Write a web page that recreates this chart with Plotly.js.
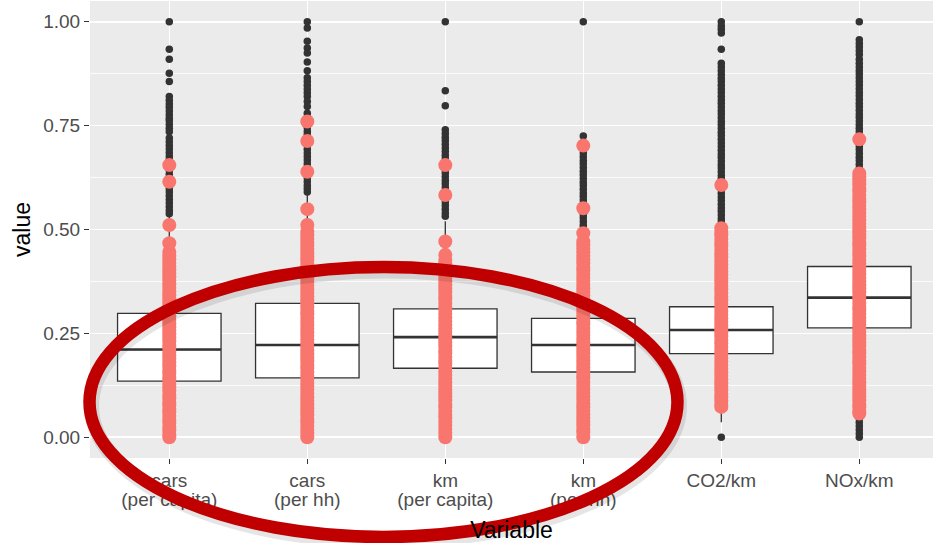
<!DOCTYPE html>
<html>
<head>
<meta charset="utf-8">
<script src="https://cdn.plot.ly/plotly-3.0.1.min.js"></script>
<style>html,body{margin:0;padding:0;background:#fff;}#chart{width:935px;height:543px;}</style>
</head>
<body>
<div id="chart"></div>
<script>
// ---- data ----
const categoryLine1 = ['cars', 'cars', 'km', 'km', 'CO2/km', 'NOx/km'];
const categoryLine2 = ['(per capita)', '(per hh)', '(per capita)', '(per hh)', '', ''];
const q1Values     = [0.135, 0.143, 0.166, 0.157, 0.201, 0.263];
const medianValues = [0.211, 0.222, 0.241, 0.222, 0.258, 0.336];
const q3Values     = [0.298, 0.322, 0.309, 0.286, 0.314, 0.411];
const lowerFences  = [0.000, 0.000, 0.000, 0.000, 0.036, 0.052];
const upperFences  = [0.540, 0.585, 0.520, 0.480, 0.480, 0.630];

// black outliers (boxplot outliers) per category
const outliers1 = [1.0, 0.934, 0.910, 0.876, 0.856, 0.82, 0.811, 0.802, 0.794, 0.785, 0.776, 0.768, 0.762, 0.753, 0.744, 0.735, 0.72, 0.711, 0.702, 0.694, 0.685, 0.676, 0.668, 0.659, 0.65, 0.642, 0.633, 0.624, 0.616, 0.607, 0.598, 0.59, 0.581, 0.572, 0.564, 0.555, 0.546, 0.538];
const outliers2 = [1.0, 0.985, 0.953, 0.937, 0.925, 0.903, 0.882, 0.865, 0.856, 0.847, 0.838, 0.829, 0.82, 0.808, 0.796, 0.78, 0.771, 0.762, 0.754, 0.745, 0.736, 0.728, 0.719, 0.71, 0.702, 0.693, 0.684, 0.676, 0.667, 0.658, 0.65, 0.641, 0.632, 0.624, 0.615, 0.606, 0.598, 0.59];
const outliers3 = [1.0, 0.834, 0.798, 0.74, 0.731, 0.722, 0.714, 0.705, 0.696, 0.688, 0.679, 0.67, 0.662, 0.653, 0.644, 0.636, 0.627, 0.618, 0.61, 0.601, 0.592, 0.584, 0.575, 0.566, 0.558, 0.549, 0.54, 0.532];
const outliers4 = [1.0, 0.725, 0.71, 0.684, 0.675, 0.666, 0.658, 0.649, 0.64, 0.632, 0.623, 0.614, 0.606, 0.597, 0.588, 0.58, 0.571, 0.562, 0.554, 0.545, 0.536, 0.528, 0.519, 0.51, 0.502, 0.493, 0.485];
const outliers5 = [1.0, 0.99, 0.982, 0.973, 0.934, 0.9, 0.891, 0.882, 0.873, 0.864, 0.856, 0.847, 0.838, 0.83, 0.821, 0.812, 0.804, 0.795, 0.786, 0.778, 0.769, 0.76, 0.752, 0.743, 0.734, 0.726, 0.717, 0.708, 0.7, 0.691, 0.682, 0.674, 0.665, 0.656, 0.648, 0.639, 0.63, 0.622, 0.613, 0.604, 0.596, 0.587, 0.578, 0.57, 0.561, 0.552, 0.544, 0.535, 0.526, 0.518, 0.509, 0.5, 0.492, 0.0];
const outliers6 = [1.0, 0.957, 0.948, 0.939, 0.93, 0.921, 0.91, 0.9, 0.891, 0.882, 0.874, 0.865, 0.856, 0.848, 0.839, 0.83, 0.822, 0.813, 0.804, 0.796, 0.787, 0.778, 0.77, 0.761, 0.752, 0.744, 0.735, 0.726, 0.718, 0.709, 0.7, 0.692, 0.683, 0.674, 0.666, 0.657, 0.648, 0.64, 0.045, 0.036, 0.027, 0.018, 0.009, 0.0];

// highlighted (salmon) observations per category
const points1 = [0.655, 0.615, 0.511, 0.467, 0.446, 0.437, 0.428, 0.42, 0.411, 0.402, 0.394, 0.385, 0.377, 0.368, 0.36, 0.351, 0.342, 0.334, 0.325, 0.317, 0.308, 0.3, 0.291, 0.282, 0.274, 0.265, 0.257, 0.248, 0.24, 0.231, 0.222, 0.214, 0.205, 0.197, 0.188, 0.18, 0.171, 0.162, 0.154, 0.145, 0.137, 0.128, 0.12, 0.111, 0.102, 0.094, 0.085, 0.077, 0.068, 0.06, 0.051, 0.042, 0.034, 0.025, 0.017, 0.008, 0.0];
const points2 = [0.76, 0.713, 0.639, 0.549, 0.511, 0.495, 0.486, 0.478, 0.469, 0.46, 0.452, 0.443, 0.434, 0.426, 0.417, 0.408, 0.4, 0.391, 0.382, 0.374, 0.365, 0.356, 0.348, 0.339, 0.33, 0.322, 0.313, 0.304, 0.296, 0.287, 0.278, 0.27, 0.261, 0.252, 0.244, 0.235, 0.226, 0.218, 0.209, 0.2, 0.192, 0.183, 0.174, 0.166, 0.157, 0.148, 0.14, 0.131, 0.122, 0.114, 0.105, 0.096, 0.088, 0.079, 0.07, 0.062, 0.053, 0.044, 0.036, 0.027, 0.018, 0.01, 0.0];
const points3 = [0.655, 0.583, 0.471, 0.439, 0.427, 0.418, 0.41, 0.401, 0.392, 0.384, 0.375, 0.366, 0.358, 0.349, 0.34, 0.332, 0.323, 0.314, 0.306, 0.297, 0.288, 0.28, 0.271, 0.262, 0.254, 0.245, 0.236, 0.228, 0.219, 0.21, 0.202, 0.193, 0.184, 0.176, 0.167, 0.158, 0.15, 0.141, 0.132, 0.124, 0.115, 0.106, 0.098, 0.089, 0.08, 0.072, 0.063, 0.054, 0.046, 0.037, 0.028, 0.02, 0.011, 0.0];
const points4 = [0.702, 0.551, 0.491, 0.471, 0.462, 0.454, 0.445, 0.436, 0.428, 0.419, 0.41, 0.402, 0.393, 0.384, 0.376, 0.367, 0.358, 0.35, 0.341, 0.332, 0.324, 0.315, 0.306, 0.298, 0.289, 0.28, 0.272, 0.263, 0.254, 0.246, 0.237, 0.228, 0.22, 0.211, 0.202, 0.194, 0.185, 0.176, 0.168, 0.159, 0.15, 0.142, 0.133, 0.124, 0.116, 0.107, 0.098, 0.09, 0.081, 0.072, 0.064, 0.055, 0.046, 0.038, 0.029, 0.02, 0.012, 0.0];
const points5 = [0.607, 0.503, 0.494, 0.486, 0.477, 0.468, 0.46, 0.451, 0.442, 0.434, 0.425, 0.416, 0.408, 0.399, 0.39, 0.382, 0.373, 0.364, 0.356, 0.347, 0.338, 0.33, 0.321, 0.312, 0.304, 0.295, 0.286, 0.278, 0.269, 0.26, 0.252, 0.243, 0.234, 0.226, 0.217, 0.208, 0.2, 0.191, 0.182, 0.174, 0.165, 0.156, 0.148, 0.139, 0.13, 0.122, 0.113, 0.104, 0.096, 0.087, 0.078, 0.073];
const points6 = [0.717, 0.635, 0.626, 0.618, 0.609, 0.6, 0.592, 0.583, 0.574, 0.566, 0.557, 0.548, 0.54, 0.531, 0.522, 0.514, 0.505, 0.496, 0.488, 0.479, 0.47, 0.462, 0.453, 0.444, 0.436, 0.427, 0.418, 0.41, 0.401, 0.392, 0.384, 0.375, 0.366, 0.358, 0.349, 0.34, 0.332, 0.323, 0.314, 0.306, 0.297, 0.288, 0.28, 0.271, 0.262, 0.254, 0.245, 0.236, 0.228, 0.219, 0.21, 0.202, 0.193, 0.184, 0.176, 0.167, 0.158, 0.15, 0.141, 0.132, 0.124, 0.115, 0.106, 0.098, 0.089, 0.08, 0.072, 0.063, 0.057];

const yTickVals = [0, 0.25, 0.5, 0.75, 1.0];

// ---- build traces ----
const xPos = categoryLine1.map((c, i) => i + 1);
const BOX_W = 0.75;
const outlierSets = [outliers1, outliers2, outliers3, outliers4, outliers5, outliers6];
const pointSets = [points1, points2, points3, points4, points5, points6];

function flatten(sets) {
  const xs = [], ys = [];
  sets.forEach((vals, i) => vals.forEach(v => { xs.push(xPos[i]); ys.push(v); }));
  return {xs, ys};
}

const boxTrace = {
  type: 'box',
  x: xPos,
  q1: q1Values, median: medianValues, q3: q3Values,
  lowerfence: lowerFences, upperfence: upperFences,
  width: BOX_W,
  boxpoints: false,
  whiskerwidth: 0,
  fillcolor: '#FFFFFF',
  line: {color: '#333333', width: 1.3},
  hoverinfo: 'skip'
};

const medX = [], medY = [];
medianValues.forEach((m, i) => {
  medX.push(xPos[i] - BOX_W / 2, xPos[i] + BOX_W / 2, null);
  medY.push(m, m, null);
});
const medianTrace = {
  type: 'scatter', mode: 'lines', x: medX, y: medY,
  line: {color: '#333333', width: 2.6}, hoverinfo: 'skip'
};

const o = flatten(outlierSets);
const outlierTrace = {
  type: 'scatter', mode: 'markers', x: o.xs, y: o.ys,
  marker: {color: '#333333', size: 7.5, line: {width: 0}}, hoverinfo: 'skip'
};

const p = flatten(pointSets);
const pointTrace = {
  type: 'scatter', mode: 'markers', x: p.xs, y: p.ys,
  marker: {color: '#F8766D', size: 14, line: {width: 0}}, hoverinfo: 'skip'
};

// empty trace so the second-line label axis is drawn
const labelAxisTrace = {type: 'scatter', mode: 'markers', x: [], y: [], xaxis: 'x2', hoverinfo: 'skip'};

// ---- layout ----
const W = 935, H = 543;
const M = {l: 90, r: 2, t: 1, b: 85};
const plotW = W - M.l - M.r, plotH = H - M.t - M.b;
function px2paperX(px) { return (px - M.l) / plotW; }
function px2paperY(py) { return (H - M.b - py) / plotH; }
const xRange = [1 - 79.3 / 138, 1 - 79.3 / 138 + plotW / 138];

// hand-drawn highlight ellipse (pixel geometry of the annotation)
const ell = {cx: 383.5, cy: 402, rx: 294, ry: 135};
const shapes = [
  {type: 'circle', xref: 'paper', yref: 'paper', layer: 'above',
   x0: px2paperX(ell.cx - ell.rx + 2), x1: px2paperX(ell.cx + ell.rx + 2),
   y0: px2paperY(ell.cy + ell.ry + 4), y1: px2paperY(ell.cy - ell.ry + 4),
   line: {color: 'rgba(0,0,0,0.10)', width: 15}},
  {type: 'circle', xref: 'paper', yref: 'paper', layer: 'above',
   x0: px2paperX(ell.cx - ell.rx), x1: px2paperX(ell.cx + ell.rx),
   y0: px2paperY(ell.cy + ell.ry), y1: px2paperY(ell.cy - ell.ry),
   line: {color: '#C00000', width: 12.5}}
];

const tickFont = {size: 19, color: '#4D4D4D'};
const layout = {
  width: W, height: H,
  margin: M,
  paper_bgcolor: '#FFFFFF',
  plot_bgcolor: '#EBEBEB',
  showlegend: false,
  hovermode: false,
  font: {family: 'Liberation Sans, Arial, sans-serif', color: '#000000'},
  xaxis: {
    range: xRange,
    tickvals: xPos, ticktext: categoryLine1,
    tickfont: tickFont,
    ticks: 'outside', ticklen: 5, tickwidth: 1.2, tickcolor: '#333333',
    showgrid: true, gridcolor: '#FFFFFF', gridwidth: 1.5,
    zeroline: false, showline: false, fixedrange: true,
    title: {text: 'Variable', font: {size: 23, color: '#000000'}, standoff: 32}
  },
  xaxis2: {
    overlaying: 'x', anchor: 'y', side: 'bottom',
    range: xRange,
    tickvals: xPos, ticktext: categoryLine2,
    tickfont: tickFont,
    ticks: '', ticklabelstandoff: 28,
    showgrid: false, zeroline: false, showline: false, fixedrange: true
  },
  yaxis: {
    range: [-0.05, 1.05],
    tickvals: yTickVals, tickformat: '.2f',
    tickfont: tickFont,
    ticks: 'outside', ticklen: 5, tickwidth: 1.2, tickcolor: '#333333',
    showgrid: true, gridcolor: '#FFFFFF', gridwidth: 1.5,
    minor: {tick0: 0.125, dtick: 0.25, showgrid: true, gridcolor: '#FFFFFF', gridwidth: 0.8, ticks: ''},
    zeroline: false, showline: false, fixedrange: true,
    title: {text: 'value', font: {size: 23, color: '#000000'}, standoff: 6}
  },
  shapes: shapes
};

Plotly.newPlot('chart', [boxTrace, medianTrace, outlierTrace, pointTrace, labelAxisTrace], layout, {displayModeBar: false, staticPlot: true});
</script>
</body>
</html>
